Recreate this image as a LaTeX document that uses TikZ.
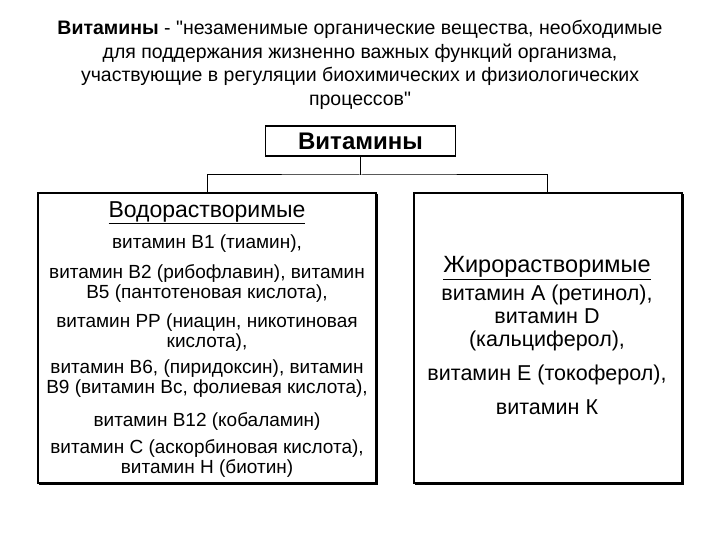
\documentclass[tikz,border=0pt]{standalone}
\usepackage{fontspec}
\newfontfamily\lib{Liberation Sans}
\begin{document}
\begin{tikzpicture}[x=1pt,y=-1pt,
  box/.style={draw,line width=1.3pt,inner sep=0pt},
  txt/.style={align=center,inner sep=0pt},
  ln/.style={line width=1pt}]
\useasboundingbox (0,0) rectangle (720,540);
\node[txt,font=\lib\fontsize{19.5}{23.5}\selectfont] (title) at (360,65)
 {\textbf{Витамины} - "незаменимые органические вещества, необходимые\\
 для поддержания жизненно важных функций организма,\\
 участвующие в регуляции биохимических и физиологических\\
 процессов"};
\node[box,minimum width=190pt,minimum height=30pt,font=\lib\fontsize{24}{26}\selectfont\bfseries] (vit) at (360.5,141) {Витамины};
\draw[box] (38,193) rectangle (376,483);
\draw[line width=2pt] (39,484) -- (377,484) -- (377,194);
\draw[box] (414,193) rectangle (682,483);
\draw[line width=2pt] (415,484) -- (683,484) -- (683,194);
\coordinate (lt) at (207,193);
\coordinate (rt) at (547,193);
\draw[ln] (vit.south) -- (360.5,175) coordinate (mid);
\draw[ln] (lt) |- (mid) -| (rt);
\node[txt,font=\lib\fontsize{23}{25}\selectfont] (wtitle) at (207,213) {\underline{Водорастворимые}};
\node[txt,font=\lib\fontsize{19}{20}\selectfont] (w1) at (207,244) {витамин В1 (тиамин),};
\node[txt,font=\lib\fontsize{19}{20}\selectfont] (w2) at (207,283) {витамин В2 (рибофлавин), витамин\\В5 (пантотеновая кислота),};
\node[txt,font=\lib\fontsize{19}{20}\selectfont] (w3) at (207,333) {витамин РР (ниацин, никотиновая\\кислота),};
\node[txt,font=\lib\fontsize{19}{20}\selectfont] (w4) at (207,379) {витамин В6, (пиридоксин), витамин\\В9 (витамин Вс, фолиевая кислота),};
\node[txt,font=\lib\fontsize{19}{20}\selectfont] (w5) at (207,421) {витамин В12 (кобаламин)};
\node[txt,font=\lib\fontsize{19}{20}\selectfont] (w6) at (207,458) {витамин С (аскорбиновая кислота),\\витамин Н (биотин)};
\node[txt,font=\lib\fontsize{23.5}{25}\selectfont] (ftitle) at (547,268) {\underline{Жирорастворимые}};
\node[txt,font=\lib\fontsize{21.5}{23}\selectfont] (f1) at (547,318) {витамин А (ретинол),\\витамин D\\(кальциферол),};
\node[txt,font=\lib\fontsize{21.5}{23}\selectfont] (f2) at (547,375) {витамин Е (токоферол),};
\node[txt,font=\lib\fontsize{21.5}{23}\selectfont] (f3) at (547,407) {витамин К};
\end{tikzpicture}
\end{document}
